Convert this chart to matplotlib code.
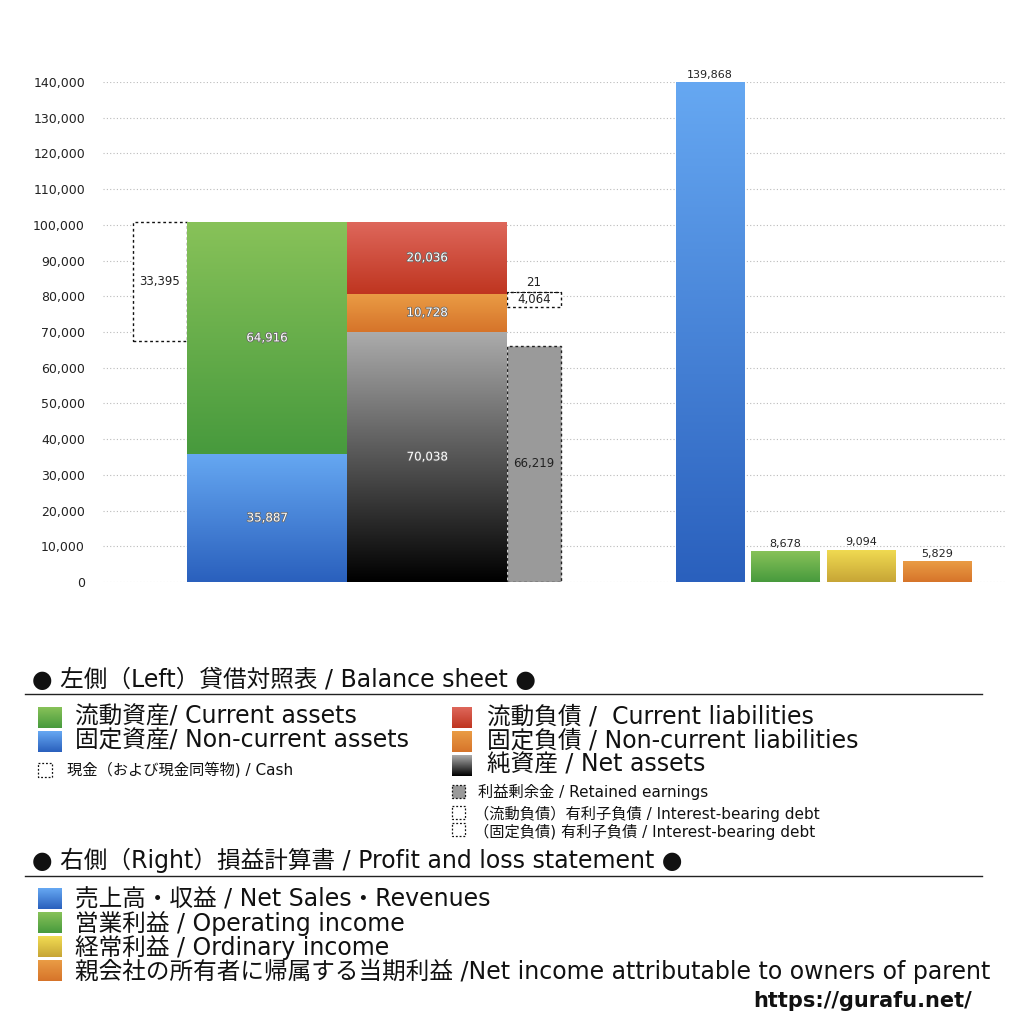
import numpy as np
import matplotlib
matplotlib.use("Agg")
import matplotlib.pyplot as plt
from matplotlib.patches import Rectangle
import matplotlib.patheffects as pe
from matplotlib.colors import LinearSegmentedColormap

plt.rcParams['font.family'] = ['DejaVu Sans', 'Noto Sans CJK JP']

# ---------------- data ----------------
assets_labels = ["固定資産", "流動資産"]
assets_values = [35887, 64916]          # non-current (bottom), current (top)
cash_value = 33395
liab_labels = ["純資産", "固定負債", "流動負債"]
liab_values = [70038, 10728, 20036]     # net assets, non-current liab, current liab
retained_earnings = 66219
ib_debt_values = [4064, 21]             # non-current, current interest-bearing debt
ib_debt_base = 77100
pl_labels = ["売上高・収益", "営業利益", "経常利益", "親会社の所有者に帰属する当期利益"]
pl_values = [139868, 8678, 9094, 5829]
yticks = list(range(0, 140001, 10000))

# gradient colours (top, bottom)
C_GREEN = ("#88c259", "#479a3d")
C_BLUE = ("#66a8f2", "#2a60bd")
C_RED = ("#de675b", "#bf3520")
C_ORANGE = ("#ea9c45", "#d6742a")
C_GRAY = ("#acacac", "#000000")
C_YELLOW = ("#f1dc52", "#c7a536")

fig = plt.figure(figsize=(10.24, 10.24), dpi=100)
W = H = 1024.0
ax = fig.add_axes([103 / W, 1 - 582 / H, (1005 - 103) / W, (582 - 82) / H])
XL = (103, 1005)


def grad_fill(ax, patch, colors):
    cmap = LinearSegmentedColormap.from_list("g", [colors[1], colors[0]])
    x0, y0 = patch.get_x(), patch.get_y()
    w, h = patch.get_width(), patch.get_height()
    img = ax.imshow(np.linspace(0, 1, 256).reshape(-1, 1), cmap=cmap, origin="lower",
                    extent=[x0, x0 + w, y0, y0 + h], aspect="auto", zorder=patch.get_zorder() + 0.1,
                    interpolation="bicubic")
    img.set_clip_path(patch)


inner = dict(color="white", fontsize=8.5, ha="center", va="center",
             path_effects=[pe.withStroke(linewidth=1.1, foreground="#666666")], zorder=10)
dark = dict(color="#222222", fontsize=8.5, ha="center", va="center", zorder=10)

# ---- balance sheet: assets ----
xa, wa = 187 + 80, 160
bottoms = [0, assets_values[0]]
acol = [C_BLUE, C_GREEN]
for v, b, c in zip(assets_values, bottoms, acol):
    bar = ax.bar(xa, v, wa, bottom=b, color=c[1], linewidth=0, zorder=3)[0]
    grad_fill(ax, bar, c)
    ax.text(xa, b + v / 2, f"{v:,}", **inner)

total_assets = sum(assets_values)
# cash dotted box
xc, wc = 133 + 27, 54
ax.bar(xc, cash_value, wc, bottom=total_assets - cash_value, facecolor="white",
       edgecolor="#111111", linestyle=(0, (2, 2)), linewidth=1.0, zorder=3)
ax.text(xc, total_assets - cash_value / 2, f"{cash_value:,}", **dark)

# ---- balance sheet: liabilities + net assets ----
xl, wl = 347 + 80, 160
lcol = [C_GRAY, C_ORANGE, C_RED]
b = 0
for v, c in zip(liab_values, lcol):
    bar = ax.bar(xl, v, wl, bottom=b, color=c[1], linewidth=0, zorder=3)[0]
    grad_fill(ax, bar, c)
    ax.text(xl, b + v / 2, f"{v:,}", **inner)
    b += v

# retained earnings
xr, wr = 507 + 27, 54
ax.bar(xr, retained_earnings, wr, color="#9a9a9a", edgecolor="#222222",
       linestyle=(0, (2, 2)), linewidth=1.0, zorder=3)
ax.text(xr, retained_earnings / 2, f"{retained_earnings:,}", **dark)

# interest-bearing debt boxes
ax.bar(xr, ib_debt_values[0], wr, bottom=ib_debt_base, facecolor="white",
       edgecolor="#111111", linestyle=(0, (2, 2)), linewidth=1.0, zorder=3)
ax.text(xr, ib_debt_base + ib_debt_values[0] / 2, f"{ib_debt_values[0]:,}", **dark)
ax.bar(xr, ib_debt_values[1], wr, bottom=ib_debt_base + ib_debt_values[0], facecolor="white",
       edgecolor="#111111", linestyle=(0, (2, 2)), linewidth=0.6, zorder=3)
ax.text(xr, ib_debt_base + ib_debt_values[0] + 2600, f"{ib_debt_values[1]:,}", **dark)

# ---- P/L bars ----
xp = [710, 785.5, 861.5, 937.5]
wp = 69
pcol = [C_BLUE, C_GREEN, C_YELLOW, C_ORANGE]
for x, v, c in zip(xp, pl_values, pcol):
    bar = ax.bar(x, v, wp, color=c[1], linewidth=0, zorder=3)[0]
    grad_fill(ax, bar, c)
    ax.text(x, v + 700, f"{v:,}", color="#222222", fontsize=8, ha="center", va="bottom", zorder=10)

# ---- axes styling ----
ax.set_xlim(*XL)
ax.set_ylim(0, 140000)
ax.set_yticks(yticks)
ax.set_yticklabels([f"{t:,}" for t in yticks], fontsize=9, color="#222222")
ax.tick_params(axis="y", length=0, pad=13)
ax.set_xticks([])
for s in ax.spines.values():
    s.set_visible(False)
ax.grid(axis="y", color="#bbbbbb", linestyle=(0, (1, 2)), linewidth=0.8, zorder=0)
ax.set_axisbelow(True)

# ---------------- legend (figure pixel coords overlay) ----------------
lg = fig.add_axes([0, 0, 1, 1], zorder=-1)
lg.set_xlim(0, W)
lg.set_ylim(H, 0)
lg.axis("off")


def sq(x, y, w, h, colors=None, face=None, dotted=False):
    if colors is not None:
        r = Rectangle((x, y), w, h, facecolor=colors[1], linewidth=0, zorder=1)
        lg.add_patch(r)
        cmap = LinearSegmentedColormap.from_list("g", [colors[0], colors[1]])
        im = lg.imshow(np.linspace(0, 1, 64).reshape(-1, 1), cmap=cmap, origin="upper",
                       extent=[x, x + w, y + h, y], aspect="auto", zorder=2)
        im.set_clip_path(r)
    else:
        r = Rectangle((x, y), w, h, facecolor=face or "white", edgecolor="#111111",
                      linestyle=(0, (1.5, 1.5)), linewidth=0.9, zorder=2)
        lg.add_patch(r)


BIG = 17
SMALL = 11
TXT = "#111111"
lg.text(32, 680, "● 左側（Left）貸借対照表 / Balance sheet ●", fontsize=BIG, va="center", color=TXT)
lg.plot([25, 982], [694, 694], color="#222222", lw=1)
lg.text(32, 860, "● 右側（Right）損益計算書 / Profit and loss statement ●", fontsize=BIG, va="center", color=TXT)
lg.plot([25, 982], [876, 876], color="#222222", lw=1)

sq(38, 707, 24, 21, C_GREEN)
lg.text(75, 717, "流動資産/ Current assets", fontsize=BIG, va="center", color=TXT)
sq(38, 731, 24, 21, C_BLUE)
lg.text(75, 741, "固定資産/ Non-current assets", fontsize=BIG, va="center", color=TXT)
sq(38, 763, 14, 14, dotted=True)
lg.text(67, 770, "現金（および現金同等物) / Cash", fontsize=SMALL, va="center", color=TXT)

sq(452, 707, 20, 21, C_RED)
lg.text(487, 717, "流動負債 /  Current liabilities", fontsize=BIG, va="center", color=TXT)
sq(452, 731, 20, 21, C_ORANGE)
lg.text(487, 741, "固定負債 / Non-current liabilities", fontsize=BIG, va="center", color=TXT)
sq(452, 755, 20, 21, C_GRAY)
lg.text(487, 765, "純資産 / Net assets", fontsize=BIG, va="center", color=TXT)
sq(452, 785, 13, 13, face="#9a9a9a", dotted=True)
lg.text(478, 792, "利益剰余金 / Retained earnings", fontsize=SMALL, va="center", color=TXT)
sq(452, 806, 13, 13, dotted=True)
lg.text(474, 814, "（流動負債）有利子負債 / Interest-bearing debt", fontsize=SMALL, va="center", color=TXT)
sq(452, 823, 13, 13, dotted=True)
lg.text(474, 832, "（固定負債) 有利子負債 / Interest-bearing debt", fontsize=SMALL, va="center", color=TXT)

pl_legend = ["売上高・収益 / Net Sales・Revenues", "営業利益 / Operating income",
             "経常利益 / Ordinary income",
             "親会社の所有者に帰属する当期利益 /Net income attributable to owners of parent"]
for i, (t, c) in enumerate(zip(pl_legend, pcol)):
    y = 899 + 24 * i
    sq(38, y - 11, 24, 21, c)
    lg.text(75, y, t, fontsize=BIG, va="center", color=TXT)

lg.text(972, 1001, "https://gurafu.net/", fontsize=15, fontweight="bold", ha="right",
        va="center", color=TXT)

fig.savefig("out.png", dpi=100, facecolor="white")
